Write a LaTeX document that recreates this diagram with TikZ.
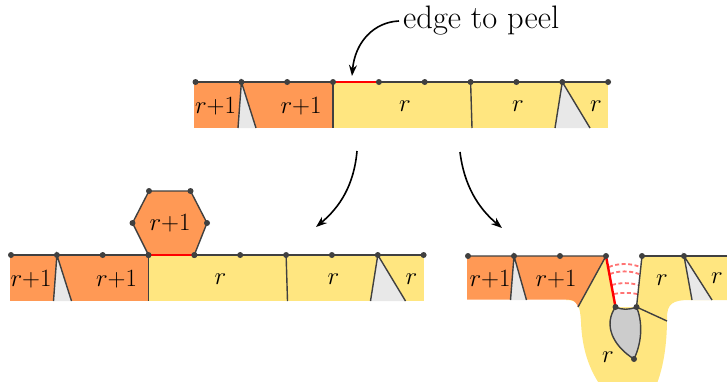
\documentclass[tikz,border=0pt]{standalone}
\usetikzlibrary{arrows.meta}
\definecolor{orng}{HTML}{FF9955}
\definecolor{yelw}{HTML}{FFE680}
\definecolor{trig}{HTML}{E8E8E8}
\definecolor{lensg}{HTML}{CCCCCC}
\definecolor{edg}{HTML}{404040}
\tikzset{
  seg/.style={draw=edg, line width=1.4pt},
  dot/.style={circle, fill=edg, inner sep=0pt, minimum size=6pt},
  lab/.style={font=\fontsize{28}{33}\selectfont, inner sep=0pt},
  peeledge/.style={red, line width=2.4pt},
  bigarrow/.style={-{Stealth[length=11pt,width=8pt]}, line width=1.6pt},
  ghost/.style={red!55, line width=1.8pt, dash pattern=on 4pt off 2.5pt},
}
% one strip: #1 name prefix
\newcommand\mystrip[1]{%
  \fill[orng] (194,82) rectangle (333,128);
  \fill[yelw] (333,82) rectangle (608,128);
  \foreach \i/\x in {0/195.5,1/241.4,2/287.2,3/333,4/378.9,5/424.7,6/470.6,7/516.4,8/562.3,9/608.1}
    \coordinate (#1p\i) at (\x,82);
  \coordinate (#1t1a) at (238,128); \coordinate (#1t1b) at (256,128);
  \coordinate (#1v3) at (333,128);
  \coordinate (#1v6) at (472,128);
  \coordinate (#1t8a) at (555,128); \coordinate (#1t8b) at (590,128);
  \fill[trig] (#1p1) -- (#1t1a) -- (#1t1b) -- cycle;
  \fill[trig] (#1p8) -- (#1t8a) -- (#1t8b) -- cycle;
  \draw[seg] (#1t1a) -- (#1p1) -- (#1t1b);
  \draw[seg] (#1t8a) -- (#1p8) -- (#1t8b);
  \draw[seg] (#1p3) -- (#1v3);
  \draw[seg] (#1p6) -- (#1v6);
  \draw[seg] (#1p0) -- (#1p9);
  \draw[peeledge] (#1p3) -- (#1p4);
  \foreach \i in {0,...,9} \node[dot] (#1d\i) at (#1p\i) {};
  \node[lab] (#1l1) at (215.5,106) {$r{+}1$};
  \node[lab] (#1l2) at (301,106) {$r{+}1$};
  \node[lab] (#1l3) at (405,106) {$r$};
  \node[lab] (#1l4) at (518,106) {$r$};
  \node[lab] (#1l5) at (596,106) {$r$};
}
\begin{document}
\begin{tikzpicture}[x=1pt,y=-1pt]
\useasboundingbox (0,0) rectangle (727,381);

% ---------- top strip ----------
\mystrip{T}
\node[font=\fontsize{32.5}{38}\selectfont, anchor=west, inner sep=0pt] (peeltxt) at (403,21) {edge to peel};
\coordinate (peeltip) at (352,76);
\draw[bigarrow] ([xshift=-4pt]peeltxt.west) .. controls (374,22) and (355,42) .. (peeltip);

% ---------- bottom left ----------
\begin{scope}[shift={(-184.5,173)}]
\mystrip{L}
\end{scope}
\coordinate (h0) at (148.5,255);
\coordinate (h1) at (194.3,255);
\coordinate (h2) at (207,223);
\coordinate (h3) at (190.5,191);
\coordinate (h4) at (149,191);
\coordinate (h5) at (132.5,223);
\filldraw[fill=orng, seg] (h0) -- (h1) -- (h2) -- (h3) -- (h4) -- (h5) -- cycle;
\draw[peeledge] (h0) -- (h1);
\foreach \i in {0,...,5} \node[dot] (hd\i) at (h\i) {};
\node[lab] (hl) at (170,223) {$r{+}1$};

% ---------- bottom right ----------
\coordinate (b0) at (468,256);
\coordinate (b1) at (514,256);
\coordinate (b2) at (560,256);
\coordinate (b3) at (606,256);
\coordinate (b4) at (642,256);
\coordinate (b5) at (684,256);
\coordinate (bend) at (728,256);
\coordinate (rb) at (615.5,307);
\coordinate (gb) at (636.5,307);
\coordinate (lb) at (634,359);
\coordinate (diag) at (578,307);
\coordinate (side) at (667,321);
\coordinate (t5a) at (692,300); \coordinate (t5b) at (712,300);
\coordinate (t1a) at (510.5,300); \coordinate (t1b) at (526.5,300);
% yellow region with blob
\fill[yelw] (590,256) -- (bend) -- (728,300) -- (690,300)
  .. controls (672,300) and (667,304) .. (667,318)
  .. controls (667,350) and (662,375) .. (652,395) -- (608,395)
  .. controls (590,375) and (582,350) .. (581,322)
  .. controls (580,305) and (578,300) .. (566,300) -- cycle;
% orange part
\fill[orng] (467,256) -- (b3) -- (diag) .. controls (576,302) and (574,299.5) .. (567,299.5) -- (467,299.5) -- cycle;
% gap
\fill[white] (b3) -- (b4) -- (gb) -- (rb) -- cycle;
% triangles
\fill[trig] (b1) -- (t1a) -- (t1b) -- cycle;
\fill[trig] (b5) -- (t5a) -- (t5b) -- cycle;
\draw[seg] (t1a) -- (b1) -- (t1b);
\draw[seg] (t5a) -- (b5) -- (t5b);
% ghost edges
\draw[ghost] (609,267) .. controls (618,263) and (631,263) .. (640,267);
\draw[ghost] (610,274) .. controls (619,270.5) and (630,270.5) .. (639,274);
\draw[ghost] (612,285) .. controls (620,282.5) and (630,282.5) .. (638,285);
\draw[ghost] (614,294) .. controls (621,292.5) and (630,292.5) .. (637,294);
% lens
\filldraw[fill=lensg, seg] (rb) .. controls (603,325) and (613,346) .. (lb)
  .. controls (643,340) and (642,320) .. (gb)
  .. controls (629,310) and (622,310) .. (rb);
% lines
\draw[seg] (b0) -- (b3) -- (diag);
\draw[seg] (b4) -- (bend);
\draw[seg] (b4) -- (gb);
\draw[seg] (gb) -- (side);
\draw[peeledge] (b3) -- (rb);
\foreach \i in {0,...,5} \node[dot] (bd\i) at (b\i) {};
\node[dot] (rbd) at (rb) {};
\node[dot] (gbd) at (gb) {};
\node[dot] (lbd) at (lb) {};
\node[lab] (bl1) at (490,279) {$r{+}1$};
\node[lab] (bl2) at (556,279) {$r{+}1$};
\node[lab] (bl3) at (662,280) {$r$};
\node[lab] (bl4) at (717,278) {$r$};
\node[lab] (bl5) at (608,357) {$r$};

% ---------- arrows ----------
\coordinate (la0) at (357,151); \coordinate (la1) at (316,227);
\coordinate (ra0) at (460,152); \coordinate (ra1) at (502,228);
\draw[bigarrow] (la0) .. controls (354,185) and (340,207) .. (la1);
\draw[bigarrow] (ra0) .. controls (464,185) and (478,208) .. (ra1);
\end{tikzpicture}
\end{document}
